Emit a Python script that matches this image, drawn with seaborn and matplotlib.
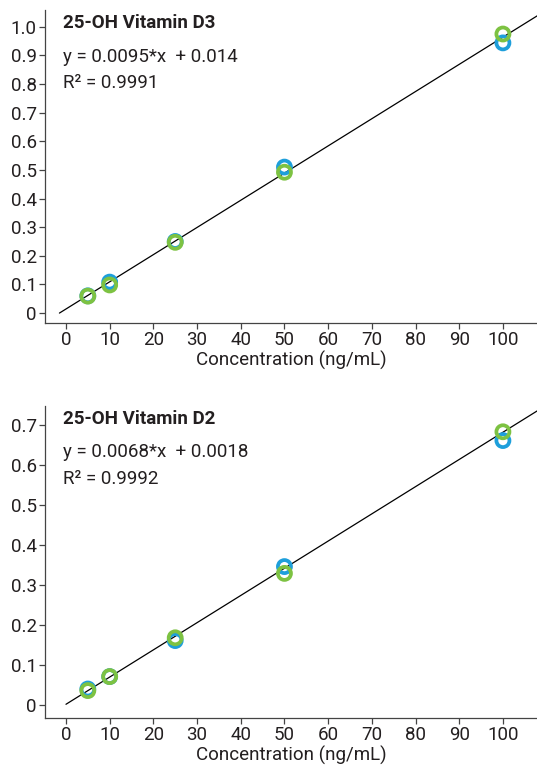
import pandas as pd
import matplotlib
matplotlib.use("Agg")
import matplotlib.pyplot as plt
import seaborn as sns

# calibration data (two replicate series per analyte)
conc = [5, 10, 25, 50, 100]
d3_blue = [0.060, 0.108, 0.250, 0.510, 0.944]
d3_green = [0.059, 0.098, 0.247, 0.492, 0.975]
d2_blue = [0.040, 0.071, 0.161, 0.346, 0.661]
d2_green = [0.036, 0.071, 0.168, 0.329, 0.683]

# regression fits as printed on the chart
d3_slope, d3_icpt = 0.0095, 0.014
d2_slope, d2_icpt = 0.0068, 0.0018
d3_fit_x = [-1.5, 110]
d2_fit_x = [0, 110]

d3_label = ["25-OH Vitamin D3", "y = 0.0095*x  + 0.014", "R\u00b2 = 0.9991"]
d2_label = ["25-OH Vitamin D2", "y = 0.0068*x  + 0.0018", "R\u00b2 = 0.9992"]

blue = "#1E9FDB"
green = "#7DC242"
text_col = "#231F20"
fs = 13.5

sns.set_theme(style="ticks")
plt.rcParams["font.family"] = ["Roboto", "DejaVu Sans"]
plt.rcParams["axes.edgecolor"] = "#444444"
plt.rcParams["xtick.color"] = "#444444"
plt.rcParams["ytick.color"] = "#444444"
plt.rcParams["xtick.labelcolor"] = text_col
plt.rcParams["ytick.labelcolor"] = text_col

fig = plt.figure(figsize=(5.37, 7.68), dpi=100)
ax1 = fig.add_axes([0.0838, 0.5794, 0.9162, 0.4076])
ax2 = fig.add_axes([0.0838, 0.0651, 0.9162, 0.4063])


def panel(ax, blue_vals, green_vals, slope, icpt, fit_x, labels, yticks, ylim):
    df = pd.DataFrame({
        "conc": conc + conc,
        "resp": blue_vals + green_vals,
        "rep": ["a"] * len(conc) + ["b"] * len(conc),
    })
    fit = pd.DataFrame({"conc": fit_x, "resp": [slope * x + icpt for x in fit_x]})
    sns.lineplot(data=fit, x="conc", y="resp", color="black", lw=0.9, ax=ax, zorder=2)
    sns.scatterplot(data=df, x="conc", y="resp", hue="rep",
                    palette={"a": blue, "b": green}, s=88, ax=ax,
                    legend=False, zorder=3, marker="o")
    coll = ax.collections[-1]
    coll.set_edgecolors(coll.get_facecolors())
    coll.set_facecolors("none")
    coll.set_linewidth(2.7)

    ax.set_xlim(-4.8, 107.8)
    ax.set_ylim(*ylim)
    ax.set_xticks(range(0, 101, 10))
    ax.set_yticks(yticks)
    ax.set_yticklabels(["0"] + [f"{v:.1f}" for v in yticks[1:]])
    ax.tick_params(labelsize=fs, length=4, width=0.9, pad=2)
    ax.set_xlabel("Concentration (ng/mL)", fontsize=fs, color=text_col, labelpad=1)
    ax.set_ylabel("")
    for s in ["top", "right"]:
        ax.spines[s].set_visible(False)
    for s in ["left", "bottom"]:
        ax.spines[s].set_linewidth(0.9)

    ax.text(0.037, 0.957, labels[0], transform=ax.transAxes, fontsize=fs,
            fontweight="bold", color=text_col, va="center", ha="left")
    ax.text(0.037, 0.851, labels[1], transform=ax.transAxes, fontsize=fs,
            color=text_col, va="center", ha="left")
    ax.text(0.037, 0.767, labels[2], transform=ax.transAxes, fontsize=fs,
            color=text_col, va="center", ha="left")


panel(ax1, d3_blue, d3_green, d3_slope, d3_icpt, d3_fit_x, d3_label,
      [0, 0.1, 0.2, 0.3, 0.4, 0.5, 0.6, 0.7, 0.8, 0.9, 1.0], (-0.035, 1.059))
panel(ax2, d2_blue, d2_green, d2_slope, d2_icpt, d2_fit_x, d2_label,
      [0, 0.1, 0.2, 0.3, 0.4, 0.5, 0.6, 0.7], (-0.0325, 0.7475))

fig.savefig("out.png", dpi=100)
